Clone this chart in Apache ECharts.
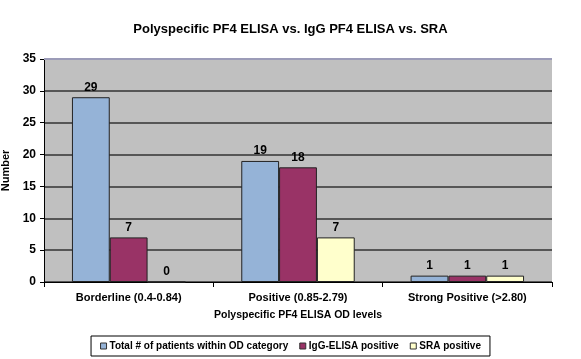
<!DOCTYPE html>
<html><head><meta charset="utf-8">
<script src="https://cdn.jsdelivr.net/npm/echarts@6/dist/echarts.min.js"></script>
<style>html,body{margin:0;padding:0;background:#fff}#c{width:581px;height:359px}</style>
</head><body><div id="c"></div>
<script>
const categories = ['Borderline (0.4-0.84)', 'Positive (0.85-2.79)', 'Strong Positive (>2.80)'];
const totalPatients = [29, 19, 1];
const igGPositive = [7, 18, 1];
const sraPositive = [0, 7, 1];
const seriesNames = ['Total # of patients within OD category', 'IgG-ELISA positive', 'SRA positive'];
const seriesColors = ['#95B3D7', '#993366', '#FFFFCC'];
const FONT = '"Liberation Sans", Arial, sans-serif';

const chart = echarts.init(document.getElementById('c'), null, {renderer: 'canvas'});
const lbl = {show: true, position: 'top', color: '#000', fontFamily: FONT, fontWeight: 'bold', fontSize: 12, distance: 4};
const mk = (name, data, color) => ({
  name, type: 'bar', data, barGap: '0%', barCategoryGap: '33%',
  itemStyle: {color, borderColor: '#222', borderWidth: 1},
  label: lbl
});
chart.setOption({
  animation: false,
  backgroundColor: '#fff',
  title: {text: 'Polyspecific PF4 ELISA vs. IgG PF4 ELISA vs. SRA', left: 'center', top: 18,
    textStyle: {fontFamily: FONT, fontWeight: 'bold', fontSize: 13, color: '#000'}},
  grid: {left: 44, right: 29, top: 59, bottom: 77, show: true, backgroundColor: '#C0C0C0', borderWidth: 0,
    outerBoundsMode: 'none', containLabel: false},
  legend: {bottom: 3, left: 'center', icon: 'rect', itemWidth: 6, itemHeight: 6, itemGap: 11,
    borderColor: '#000', borderWidth: 1, padding: [5, 9], borderRadius: 0,
    textStyle: {fontFamily: FONT, fontWeight: 'bold', fontSize: 10, color: '#000', padding: [0, 0, 0, -2]},
    data: seriesNames.map((n, i) => ({name: n, itemStyle: {borderColor: '#333', borderWidth: 1}}))},
  xAxis: {type: 'category', data: categories,
    name: 'Polyspecific PF4 ELISA OD levels', nameLocation: 'middle', nameGap: 28,
    nameTextStyle: {fontFamily: FONT, fontWeight: 'bold', fontSize: 10.5, color: '#000'},
    axisLine: {lineStyle: {color: '#000', width: 1}},
    axisTick: {show: true, length: 5, lineStyle: {color: '#000'}},
    axisLabel: {interval: 0, fontFamily: FONT, fontWeight: 'bold', fontSize: 11, color: '#000', margin: 10}},
  yAxis: {type: 'value', min: 0, max: 35, interval: 5,
    name: 'Number', nameLocation: 'middle', nameGap: 25, nameRotate: 90,
    nameTextStyle: {fontFamily: FONT, fontWeight: 'bold', fontSize: 11, color: '#000'},
    axisLine: {show: true, lineStyle: {color: '#000'}},
    axisTick: {show: true, length: 4, lineStyle: {color: '#000'}},
    axisLabel: {fontFamily: FONT, fontWeight: 'bold', fontSize: 12, color: '#000', margin: 8},
    splitLine: {show: true, lineStyle: {color: '#333', width: 1.5}}},
  series: [
    mk(seriesNames[0], totalPatients, seriesColors[0]),
    mk(seriesNames[1], igGPositive, seriesColors[1]),
    mk(seriesNames[2], sraPositive, seriesColors[2])
  ]
});
chart.setOption({graphic: [{type: 'line', shape: {x1: 44, y1: 59, x2: 552, y2: 59}, style: {stroke: '#9C9CB8', lineWidth: 2}, z: 100}]});
</script></body></html>
